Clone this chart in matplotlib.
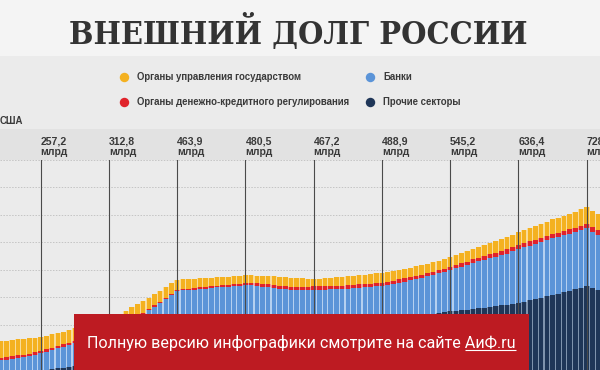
import matplotlib
matplotlib.use("Agg")
import matplotlib.pyplot as plt
import numpy as np
from matplotlib.patches import Rectangle
from matplotlib import transforms

# ---------------- data (bn USD, monthly bars, month 0 = Jan 2006) ----------------
months = list(range(-7, 99))

gov = [61, 60, 59, 58, 57, 55, 53, 51,
       50, 49, 48, 47, 46, 45, 44, 44, 44, 44, 44, 44,
       43, 43, 43, 42, 42, 41, 40, 40, 39, 38, 37, 36,
       35, 35, 34, 33, 32, 31, 30, 29, 29, 28, 28, 27,
       27, 28, 29, 30, 31, 31, 32, 32, 32, 31, 30, 27,
       28, 29, 30, 31, 32, 33, 33, 34, 34, 35, 35, 36,
       36, 36, 35, 35, 35, 34, 34, 34, 34, 34, 34, 34,
       35, 36, 37, 38, 39, 40, 41, 42, 43, 44, 44, 45,
       46, 47, 49, 50, 52, 53, 55, 56, 57, 58, 60, 61,
       60, 59]

cb = [9, 9, 9, 9, 9, 9, 9, 9,
      9, 9, 8, 8, 8, 7, 7, 6, 6, 5, 5, 4,
      4, 4, 4, 4, 4, 4, 4, 5, 5, 5, 5, 5,
      5, 5, 6, 6, 6, 7, 7, 7, 8, 8, 9, 9,
      9, 10, 10, 11, 11, 12, 12, 12, 12, 12, 12, 12,
      12, 12, 12, 12, 12, 12, 12, 12, 12, 12, 12, 12,
      12, 12, 12, 12, 11, 11, 11, 11, 11, 11, 11, 11,
      12, 12, 12, 13, 13, 13, 14, 14, 15, 15, 15, 16,
      16, 16, 16, 16, 16, 16, 16, 16, 16, 16, 16, 16,
      16, 16]

banks = [47, 48, 50, 51, 53, 55, 59, 62,
         65, 69, 73, 77, 81, 86, 89, 91, 92, 94, 96, 99,
         105, 111, 117, 123, 127, 132, 137, 141, 147, 153, 159, 165,
         165, 164, 164, 164, 164, 163, 164, 165, 164, 165, 164, 166,
         164, 159, 155, 150, 146, 141, 137, 133, 130, 128, 126, 126,
         125, 124, 124, 123, 123, 122, 123, 122, 123, 122, 123, 123,
         124, 126, 129, 131, 134, 137, 138, 140, 142, 144, 147, 151,
         155, 159, 163, 168, 171, 175, 177, 180, 182, 185, 191, 195,
         198, 199, 200, 202, 203, 205, 205, 206, 207, 208, 209, 212,
         205, 199]

other = [125, 126, 127, 129, 130, 132, 133, 135,
         137, 139, 142, 144, 147, 149, 151, 154, 157, 160, 163, 166,
         173, 180, 187, 195, 202, 209, 217, 225, 233, 241, 250, 258,
         260, 262, 264, 266, 268, 270, 272, 273, 274, 276, 277, 278,
         280, 282, 284, 286, 288, 290, 292, 294, 296, 298, 300, 302,
         303, 304, 305, 307, 308, 310, 311, 313, 314, 316, 317, 318,
         320, 322, 324, 326, 328, 331, 334, 337, 340, 343, 346, 349,
         351, 353, 355, 357, 360, 362, 365, 368, 371, 374, 377, 380,
         384, 389, 394, 399, 404, 409, 414, 419, 424, 429, 435, 440,
         434, 428]

year_months = [0, 12, 24, 36, 48, 60, 72, 84, 96]
year_labels = ["257,2", "312,8", "463,9", "480,5", "467,2",
               "488,9", "545,2", "636,4", "728,9"]
unit_label = "млрд"

series_names = ["Органы управления государством",
                "Органы денежно-кредитного регулирования",
                "Банки", "Прочие секторы"]
title = "ВНЕШНИЙ ДОЛГ РОССИИ"
banner = "Полную версию инфографики смотрите на сайте АиФ.ru"
banner_link = "АиФ.ru"

# ---------------- styling ----------------
C_GOV, C_CB, C_BANK, C_OTH = "#f4b120", "#e0232b", "#5b94d8", "#1f3658"
T_GOV, T_CB, T_BANK, T_OTH = "#f9dc9a", "#f19ea0", "#b5d0f0", "#7f93ad"
W, H = 600, 370
SANS = ["Liberation Sans", "DejaVu Sans"]

fig = plt.figure(figsize=(6, 3.7), dpi=100)
fig.patch.set_facecolor("#ebebeb")

bg = fig.add_axes([0, 0, 1, 1], zorder=0)
bg.set_xlim(0, W); bg.set_ylim(H, 0); bg.axis("off")
bg.add_patch(Rectangle((0, 0), W, 56, color="#f4f4f4", lw=0))
bg.add_patch(Rectangle((0, 56), W, 73, color="#ebebeb", lw=0))
bg.add_patch(Rectangle((0, 129), W, 31, color="#e2e2e2", lw=0))

plot_top = 159.5
ax = fig.add_axes([0, 0, 1, (H - plot_top) / H], zorder=1)
ax.set_facecolor("#ebebeb")
ax.set_xlim(-7.16, 98.34)
ax.set_ylim(136.2, 900.8)
for s in ax.spines.values():
    s.set_visible(False)
ax.set_yticks(range(200, 901, 100))
ax.set_xticks([])
ax.tick_params(left=False, bottom=False, labelleft=False, labelbottom=False)
ax.grid(axis="y", color="#c4c4c4", linestyle=(0, (1.5, 1.5)), linewidth=0.7)
ax.set_axisbelow(True)

x = np.array(months)
bottom = np.zeros(len(months))
for vals, col, tint in [(other, C_OTH, T_OTH), (banks, C_BANK, T_BANK),
                        (cb, C_CB, T_CB), (gov, C_GOV, T_GOV)]:
    v = np.array(vals, dtype=float)
    ax.bar(x, v, width=1.0, bottom=bottom, color=tint, linewidth=0, zorder=2)
    ax.bar(x, v, width=0.8, bottom=bottom, color=col, linewidth=0, zorder=2.1)
    bottom += v

for m in year_months:
    ax.axvline(m, color="#4a4a4a", lw=0.8, zorder=3)

fg = fig.add_axes([0, 0, 1, 1], zorder=2)
fg.patch.set_visible(False)
fg.set_xlim(0, W); fg.set_ylim(H, 0); fg.axis("off")

renderer = fig.canvas.get_renderer()

def fit(t, target):
    w = t.get_window_extent(renderer).width
    t.set_fontsize(t.get_fontsize() * target / w)

# title
tt = fg.text(298.5, 44, title, ha="center", va="baseline", color="#333333",
             family=["DejaVu Serif"], fontweight="bold", fontstretch="condensed",
             fontsize=24)
fit(tt, 459)

# legend
leg = [(123.6, 76.8, C_GOV, series_names[0]),
       (123.6, 101.7, C_CB, series_names[1]),
       (370.0, 76.8, C_BANK, series_names[2]),
       (370.0, 101.7, C_OTH, series_names[3])]
ref = fg.text(136.6, 80.5, series_names[1], ha="left", va="baseline",
              color="#3a3a3a", family=SANS, fontweight="bold", fontsize=8)
fit(ref, 214)
fs_leg = ref.get_fontsize()
ref.remove()
for cx, cy, col, name in leg:
    fg.plot([cx], [cy], "o", ms=6.8, color=col, mec="none")
    fg.text(cx + 13, cy + 3.7, name, ha="left", va="baseline",
            color="#3a3a3a", family=SANS, fontweight="bold", fontsize=fs_leg)

fg.text(0, 124.5, "США", ha="left", va="baseline", color="#3a3a3a",
        family=SANS, fontweight="bold", fontsize=fs_leg)

# value labels above lines
trans = transforms.blended_transform_factory(ax.transData, fg.transData)
for m, lab in zip(year_months, year_labels):
    fg.text(m, 145, lab, transform=trans, ha="left", va="baseline",
            color="#3a3a3a", family=SANS, fontweight="bold", fontsize=7.6)
    fg.text(m, 155, unit_label, transform=trans, ha="left", va="baseline",
            color="#3a3a3a", family=SANS, fontweight="bold", fontsize=7.6)

# red banner
fg.add_patch(Rectangle((73.5, 313.5), 455.5, 70, color="#bd1b22", lw=0, zorder=5))
bt = fg.text(87.3, 348, banner, ha="left", va="baseline", color="white",
             family=["Roboto", "DejaVu Sans"], fontsize=12, zorder=6)
fit(bt, 426)
bb = bt.get_window_extent(renderer)
lk = fg.text(0, 0, banner_link, family=["Roboto", "DejaVu Sans"],
             fontsize=bt.get_fontsize())
lw_ = lk.get_window_extent(renderer).width
lk.remove()
x_end = 87.3 + bb.width
fg.plot([x_end - lw_, x_end], [350, 350], color="white", lw=0.8, zorder=6,
        solid_capstyle="butt")

fig.savefig("out.png", dpi=100, facecolor=fig.get_facecolor())
